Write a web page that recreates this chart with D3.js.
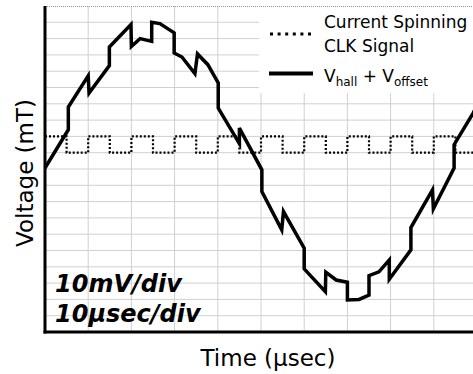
<!DOCTYPE html>
<html>
<head>
<meta charset="utf-8">
<script src="https://cdn.jsdelivr.net/npm/d3@7"></script>
<style>
  body { margin: 0; background: white; }
  text { font-family: "DejaVu Sans", Verdana, sans-serif; }
</style>
</head>
<body>
<script>
const width = 473;
const height = 374;

// signal trace, in divisions (x: 10 us/div, y: 10 mV/div)
const signalX = [0, 0.54, 0.54, 1.0, 1.02, 1.49, 1.49, 1.99, 2.0, 2.2, 2.47, 2.47, 2.66, 2.99, 2.99,
  3.17, 3.47, 3.53, 3.77, 4.01, 4.01, 4.5, 4.5, 5.02, 5.02, 5.48, 5.52, 6.0, 6.0, 6.49, 6.5, 6.74,
  7.0, 7.0, 7.27, 7.5, 7.5, 7.73, 7.97, 7.97, 8.47, 8.47, 8.97, 8.99, 9.47, 9.47, 9.91, 10.0];
const signalY = [10.06, 12.41, 13.8, 15.72, 14.66, 16.34, 17.49, 18.86, 17.52, 18.0, 17.83, 19.0, 18.92, 18.35, 17.12,
  16.87, 15.85, 17.06, 16.4, 15.28, 13.74, 11.55, 12.51, 9.95, 8.62, 6.27, 7.39, 5.14, 3.87, 2.48, 3.67, 3.19,
  3.05, 1.97, 2.0, 2.27, 3.46, 3.69, 4.42, 3.24, 5.04, 6.41, 8.72, 7.56, 10.06, 11.49, 13.43, 13.9];

// current spinning clock (step after each edge)
const clockX = [0, 0.5, 1, 1.5, 2, 2.5, 3, 3.5, 4, 4.5, 5, 5.5, 6, 6.5, 7, 7.5, 8, 8.5, 9, 9.5, 10];
const clockY = [12, 11, 12, 11, 12, 11, 12, 11, 12, 11, 12, 11, 12, 11, 12, 11, 12, 11, 12, 11, 12];

const xDivs = d3.range(0, 11);
const yDivs = d3.range(0, 21);

const x = d3.scaleLinear().domain([0, 10]).range([45, 477]);
const y = d3.scaleLinear().domain([0, 20]).range([332, 6]);

const svg = d3.select("body")
  .append("svg")
  .attr("width", width)
  .attr("height", height);

svg.append("rect")
  .attr("width", width)
  .attr("height", height)
  .attr("fill", "white");

// grid
svg.append("g")
  .selectAll("line")
  .data(xDivs.slice(1))
  .enter()
  .append("line")
  .attr("x1", d => x(d))
  .attr("x2", d => x(d))
  .attr("y1", y(20))
  .attr("y2", y(0))
  .attr("stroke", "#d0d0d0")
  .attr("stroke-width", 1);

svg.append("g")
  .selectAll("line")
  .data(yDivs.slice(1, 20))
  .enter()
  .append("line")
  .attr("x1", x(0))
  .attr("x2", x(10))
  .attr("y1", d => y(d))
  .attr("y2", d => y(d))
  .attr("stroke", "#d0d0d0")
  .attr("stroke-width", 1);

// top border, dotted
svg.append("line")
  .attr("x1", x(0))
  .attr("x2", x(10))
  .attr("y1", y(20) + 0.5)
  .attr("y2", y(20) + 0.5)
  .attr("stroke", "#999")
  .attr("stroke-width", 1)
  .attr("stroke-dasharray", "1,1");

// legend background hides the grid
svg.append("rect")
  .attr("x", 259)
  .attr("y", y(20) + 1)
  .attr("width", 220)
  .attr("height", 86)
  .attr("fill", "white");

// clock
const clockLine = d3.line()
  .x((d, i) => x(clockX[i]))
  .y(d => y(d))
  .curve(d3.curveStepAfter);

svg.append("path")
  .attr("d", clockLine(clockY))
  .attr("fill", "none")
  .attr("stroke", "black")
  .attr("stroke-width", 2.2)
  .attr("stroke-dasharray", "2,2");

// signal
const signalLine = d3.line()
  .x((d, i) => x(signalX[i]))
  .y(d => y(d));

svg.append("path")
  .attr("d", signalLine(signalY))
  .attr("fill", "none")
  .attr("stroke", "black")
  .attr("stroke-width", 3.5)
  .attr("stroke-linejoin", "miter");

// axes
svg.append("line")
  .attr("x1", x(0))
  .attr("x2", x(0))
  .attr("y1", y(20))
  .attr("y2", y(0) + 1.5)
  .attr("stroke", "black")
  .attr("stroke-width", 3);

svg.append("line")
  .attr("x1", x(0) - 1.5)
  .attr("x2", x(10))
  .attr("y1", y(0))
  .attr("y2", y(0))
  .attr("stroke", "black")
  .attr("stroke-width", 3);

// labels
svg.append("text")
  .attr("transform", "translate(33,173) rotate(-90)")
  .attr("text-anchor", "middle")
  .attr("font-size", 23)
  .text("Voltage (mT)");

svg.append("text")
  .attr("x", 268)
  .attr("y", 366)
  .attr("text-anchor", "middle")
  .attr("font-size", 23)
  .text("Time (μsec)");

svg.append("text")
  .attr("x", 55)
  .attr("y", 292)
  .attr("font-size", 24)
  .attr("font-weight", "bold")
  .attr("font-style", "italic")
  .text("10mV/div");

svg.append("text")
  .attr("x", 55)
  .attr("y", 322)
  .attr("font-size", 24)
  .attr("font-weight", "bold")
  .attr("font-style", "italic")
  .text("10μsec/div");

// legend
const legend = svg.append("g");

legend.append("line")
  .attr("x1", 270)
  .attr("x2", 314)
  .attr("y1", 34)
  .attr("y2", 34)
  .attr("stroke", "black")
  .attr("stroke-width", 3)
  .attr("stroke-dasharray", "3,4.6");

legend.append("line")
  .attr("x1", 269)
  .attr("x2", 313)
  .attr("y1", 73.5)
  .attr("y2", 73.5)
  .attr("stroke", "black")
  .attr("stroke-width", 4);

legend.append("text")
  .attr("x", 324)
  .attr("y", 28)
  .attr("font-size", 17)
  .text("Current Spinning");

legend.append("text")
  .attr("x", 324)
  .attr("y", 52)
  .attr("font-size", 17)
  .text("CLK Signal");

const vLabel = legend.append("text")
  .attr("x", 324)
  .attr("y", 82)
  .attr("font-size", 17);
vLabel.append("tspan").text("V");
vLabel.append("tspan").attr("font-size", 12).attr("dy", 4).text("hall");
vLabel.append("tspan").attr("dy", -4).text(" + V");
vLabel.append("tspan").attr("font-size", 12).attr("dy", 4).text("offset");
</script>
</body>
</html>
